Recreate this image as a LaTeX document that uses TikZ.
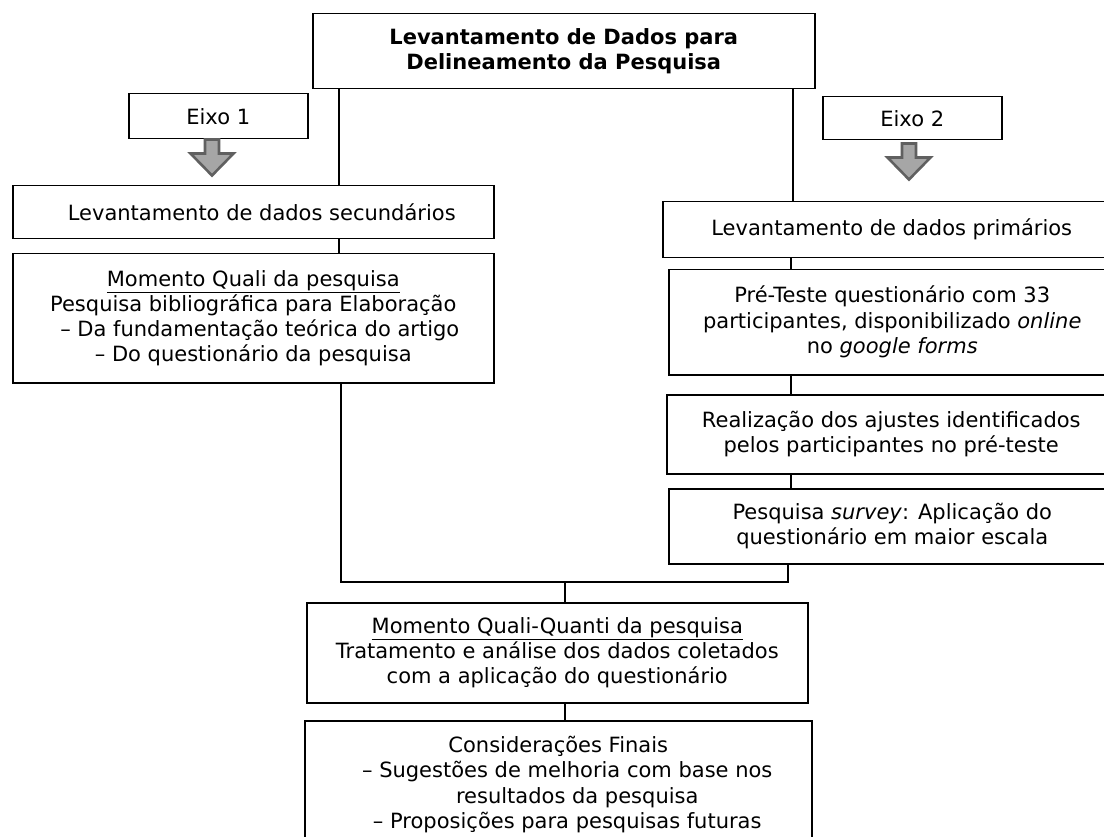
\documentclass[tikz,border=0pt]{standalone}
\usepackage{fontspec}
\setmainfont{DejaVu Sans}
\usetikzlibrary{calc}
\definecolor{arrowfill}{HTML}{A6A6A6}
\definecolor{arrowedge}{HTML}{606060}
\newcommand{\mainfs}{\fontsize{21}{25.5}\selectfont}
\newcommand{\titlefs}{\fontsize{21}{25}\selectfont\bfseries}
\newcommand{\downblk}[3]{%
  \draw[blockarrow] ($(#1)+(-7,#2)$) -- ($(#1)+(7,#2)$) -- ($(#1)+(7,#2+14)$)
    -- ($(#1)+(21.5,#2+14)$) -- ($(#1)+(0,#3)$) -- ($(#1)+(-21.5,#2+14)$)
    -- ($(#1)+(-7,#2+14)$) -- cycle;}
\begin{document}
\begin{tikzpicture}[x=1pt,y=-1pt,
  box/.style={draw=black, line width=1.5pt, inner sep=0pt, align=center, font=\mainfs, anchor=north west},
  conn/.style={draw=black, line width=1.5pt},
  blockarrow/.style={draw=arrowedge, fill=arrowfill, line width=2.6pt, line join=miter}]
\useasboundingbox (0,0) rectangle (1104,837);
\fill[white] (0,0) rectangle (1104,837);
\clip (0,0) rectangle (1104,837);

% boxes
\node[box, minimum width=502pt, minimum height=75pt, font=\titlefs] (top) at (312,13)
  {Levantamento de Dados para\\Delineamento da Pesquisa};
\node[box, minimum width=179pt, minimum height=45pt] (e1) at (128,93) {Eixo 1};
\node[box, minimum width=179pt, minimum height=43pt] (e2) at (822,96) {Eixo 2};
\node[box, minimum width=481pt, minimum height=53pt] (sec) at (12,185)
  {\hspace*{17pt}Levantamento de dados secundários};
\node[box, minimum width=481pt, minimum height=129pt, font=\fontsize{21}{25}\selectfont] (quali) at (12,253)
  {\underline{Momento Quali da pesquisa}\\
   Pesquisa bibliográfica para Elaboração\hspace*{12pt}\\
   \hspace*{13pt}– Da fundamentação teórica do artigo\\
   – Do questionário da pesquisa};
\node[box, minimum width=458pt, minimum height=56pt] (prim) at (662,201)
  {Levantamento de dados primários};
\node[box, minimum width=447pt, minimum height=105pt] (pre) at (668,269)
  {Pré-Teste questionário com 33\\
   participantes, disponibilizado \textit{online}\\
   no \textit{google forms}};
\node[box, minimum width=449pt, minimum height=79pt] (real) at (666,394)
  {Realização dos ajustes identificados\\pelos participantes no pré-teste};
\node[box, minimum width=447pt, minimum height=75pt] (surv) at (668,488)
  {Pesquisa \textit{survey}: Aplicação do\\questionário em maior escala};
\node[box, minimum width=501pt, minimum height=100pt, font=\fontsize{21}{25}\selectfont] (qq) at (306,602)
  {\underline{Momento Quali-Quanti da pesquisa}\\
   Tratamento e análise dos dados coletados\\
   com a aplicação do questionário};
\node[box, minimum width=507pt, minimum height=128pt] (fin) at (304,720)
  {Considerações Finais\\
   \hspace*{18pt}– Sugestões de melhoria com base nos\\
   \hspace*{38pt}resultados da pesquisa\\
   \hspace*{18pt}– Proposições para pesquisas futuras};

% block arrows
\coordinate (a1) at (212,0);
\coordinate (a2) at (909,0);
\downblk{a1}{139.5}{175.5}
\downblk{a2}{143.5}{179.5}

% connector guide coordinates
\coordinate (xl) at (339,0);
\coordinate (xr) at (793,0);
\coordinate (xp) at (791,0);
\coordinate (jl) at (341,582);
\coordinate (jr) at (788,582);
\coordinate (jm) at (565,582);

\draw[conn] (top.south -| xl) -- (sec.north -| xl);
\draw[conn] (top.south -| xr) -- (prim.north -| xr);
\draw[conn] (sec.south -| xl) -- (quali.north -| xl);
\draw[conn] (prim.south -| xp) -- (pre.north -| xp);
\draw[conn] (pre.south -| xp) -- (real.north -| xp);
\draw[conn] (real.south -| xp) -- (surv.north -| xp);
\draw[conn] (quali.south -| jl) -- (jl) -- (jr) -- (surv.south -| jr);
\draw[conn] (jm) -- (qq.north -| jm);
\draw[conn] (qq.south -| jm) -- (fin.north -| jm);
\end{tikzpicture}
\end{document}
